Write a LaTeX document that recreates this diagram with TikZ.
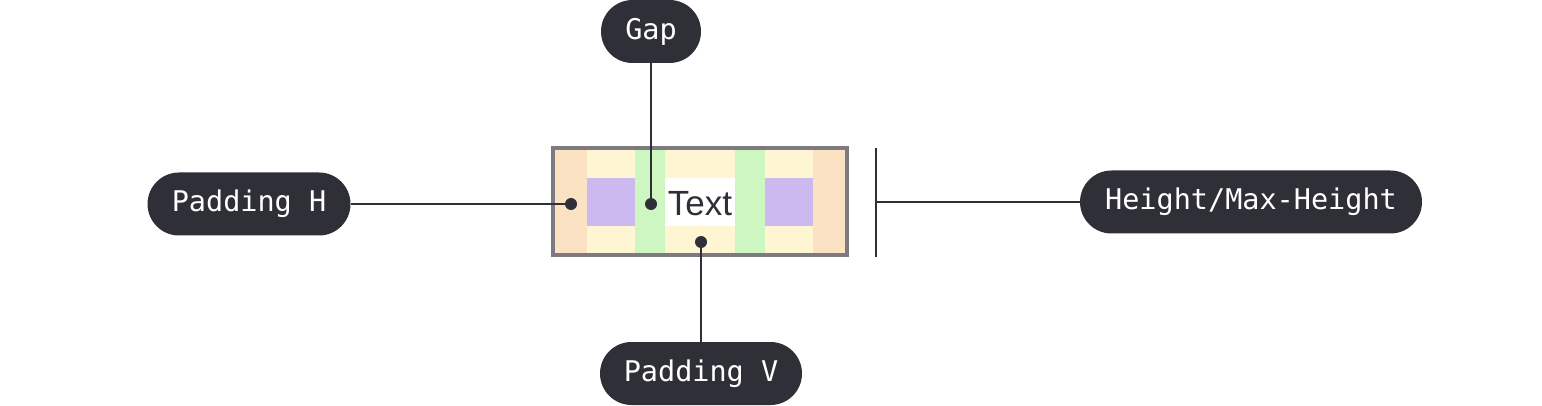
\documentclass[tikz,border=0pt]{standalone}
\usepackage{fontspec}
\newfontfamily\pillfont{DejaVu Sans Mono}
\newfontfamily\labelfont{Liberation Sans}
\definecolor{pilldark}{HTML}{2F3037}
\definecolor{peach}{HTML}{FAE2C3}
\definecolor{cream}{HTML}{FEF6D3}
\definecolor{mint}{HTML}{CEF6C0}
\definecolor{lilac}{HTML}{CBB9EF}
\definecolor{frame}{HTML}{7E7A82}
\definecolor{ink}{HTML}{2F3037}
\tikzset{
  pill/.style={fill=pilldark, text=white, rounded corners=31.5pt, minimum height=63pt,
    inner sep=0pt, font=\pillfont\fontsize{28.5}{32}\selectfont},
  dot/.style={circle, fill=ink, minimum size=12pt, inner sep=0pt},
  conn/.style={draw=ink, line width=2pt},
}
\begin{document}
\begin{tikzpicture}[x=1pt,y=-1pt]
\useasboundingbox (0,0) rectangle (1542,406);
% columns
\fill[peach] (555,150) rectangle (587,253);
\fill[cream] (587,150) rectangle (635,253);
\fill[mint] (635,150) rectangle (665,253);
\fill[cream] (665,150) rectangle (735,253);
\fill[mint] (735,150) rectangle (765,253);
\fill[cream] (765,150) rectangle (813,253);
\fill[peach] (813,150) rectangle (845,253);
\fill[lilac] (587,178) rectangle (635,226);
\fill[lilac] (765,178) rectangle (813,226);
\fill[white] (665,178) rectangle (735,226);
\draw[frame, line width=4pt] (553,148) rectangle (847,255);
\node[text=ink, font=\labelfont\fontsize{35}{38}\selectfont, inner sep=0pt] (txt) at (700,204) {Text};
% dots
\node[dot] (dh) at (571,204) {};
\node[dot] (dg) at (651,204) {};
\node[dot] (dv) at (701,242) {};
% pills
\node[pill, minimum width=100pt] (gap) at (651,31.5) {Gap};
\node[pill, minimum width=203pt] (ph) at (249,204) {Padding H};
\node[pill, minimum width=202pt] (pv) at (701,373.5) {Padding V};
\node[pill, minimum width=342pt] (hm) at (1251,202) {Height/Max-Height};
% height bar
\coordinate (bt) at (876,148);
\coordinate (bb) at (876,257);
\coordinate (bm) at (876,202);
\draw[conn] (bt) -- (bb);
% connectors
\draw[conn] (gap.south) -- (dg.center);
\draw[conn] (ph.east) -- (dh.center);
\draw[conn] (pv.north) -- (dv.center);
\draw[conn] (hm.west) -- (bm);
\end{tikzpicture}
\end{document}
